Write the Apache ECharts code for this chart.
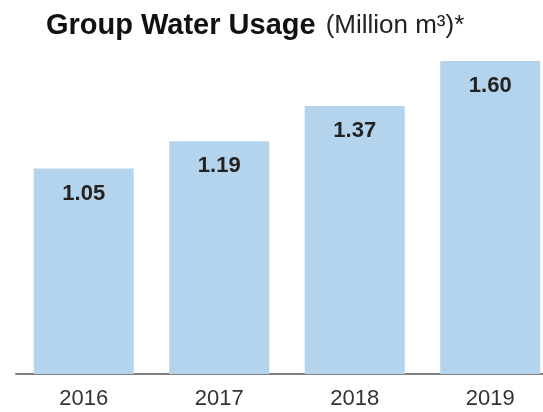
<!DOCTYPE html>
<html>
<head>
<meta charset="utf-8">
<script src="https://cdn.jsdelivr.net/npm/echarts@6/dist/echarts.min.js"></script>
<style>html,body{margin:0;padding:0;background:#fff}#c{width:543px;height:412px}</style>
</head>
<body>
<div id="c"></div>
<script>
const categories = ['2016', '2017', '2018', '2019'];
const waterUsage = [1.05, 1.19, 1.37, 1.60];
const valueLabels = ['1.05', '1.19', '1.37', '1.60'];

const FONT = 'Liberation Sans, Arial, sans-serif';
const chart = echarts.init(document.getElementById('c'));
chart.setOption({
  animation: false,
  backgroundColor: '#ffffff',
  title: {
    text: '{b|Group Water Usage}{n|(Million m³)*}',
    left: 41,
    top: 6,
    textStyle: {
      rich: {
        b: { fontFamily: FONT, fontWeight: 'bold', fontSize: 29, color: '#111', padding: [0, 10, 0, 0] },
        n: { fontFamily: FONT, fontWeight: 'normal', fontSize: 26, color: '#222' }
      }
    }
  },
  grid: { left: 16, top: 61, bottom: 38, right: -15, outerBoundsMode: 'none', containLabel: false },
  xAxis: {
    type: 'category',
    data: categories,
    axisLine: { show: true, lineStyle: { color: '#7f7f7f', width: 2 } },
    axisTick: { show: false },
    axisLabel: { color: '#333', fontSize: 22, margin: 14, fontFamily: FONT }
  },
  yAxis: {
    type: 'value', min: 0, max: 1.6, show: false, splitLine: { show: false }
  },
  series: [{
    type: 'bar',
    data: waterUsage,
    barWidth: 100,
    itemStyle: { color: '#b4d3ec' },
    label: {
      show: true,
      position: 'insideTop',
      distance: 14,
      formatter: p => valueLabels[p.dataIndex],
      color: '#222',
      fontWeight: 'bold',
      fontSize: 22,
      fontFamily: FONT
    }
  }]
});
</script>
</body>
</html>
